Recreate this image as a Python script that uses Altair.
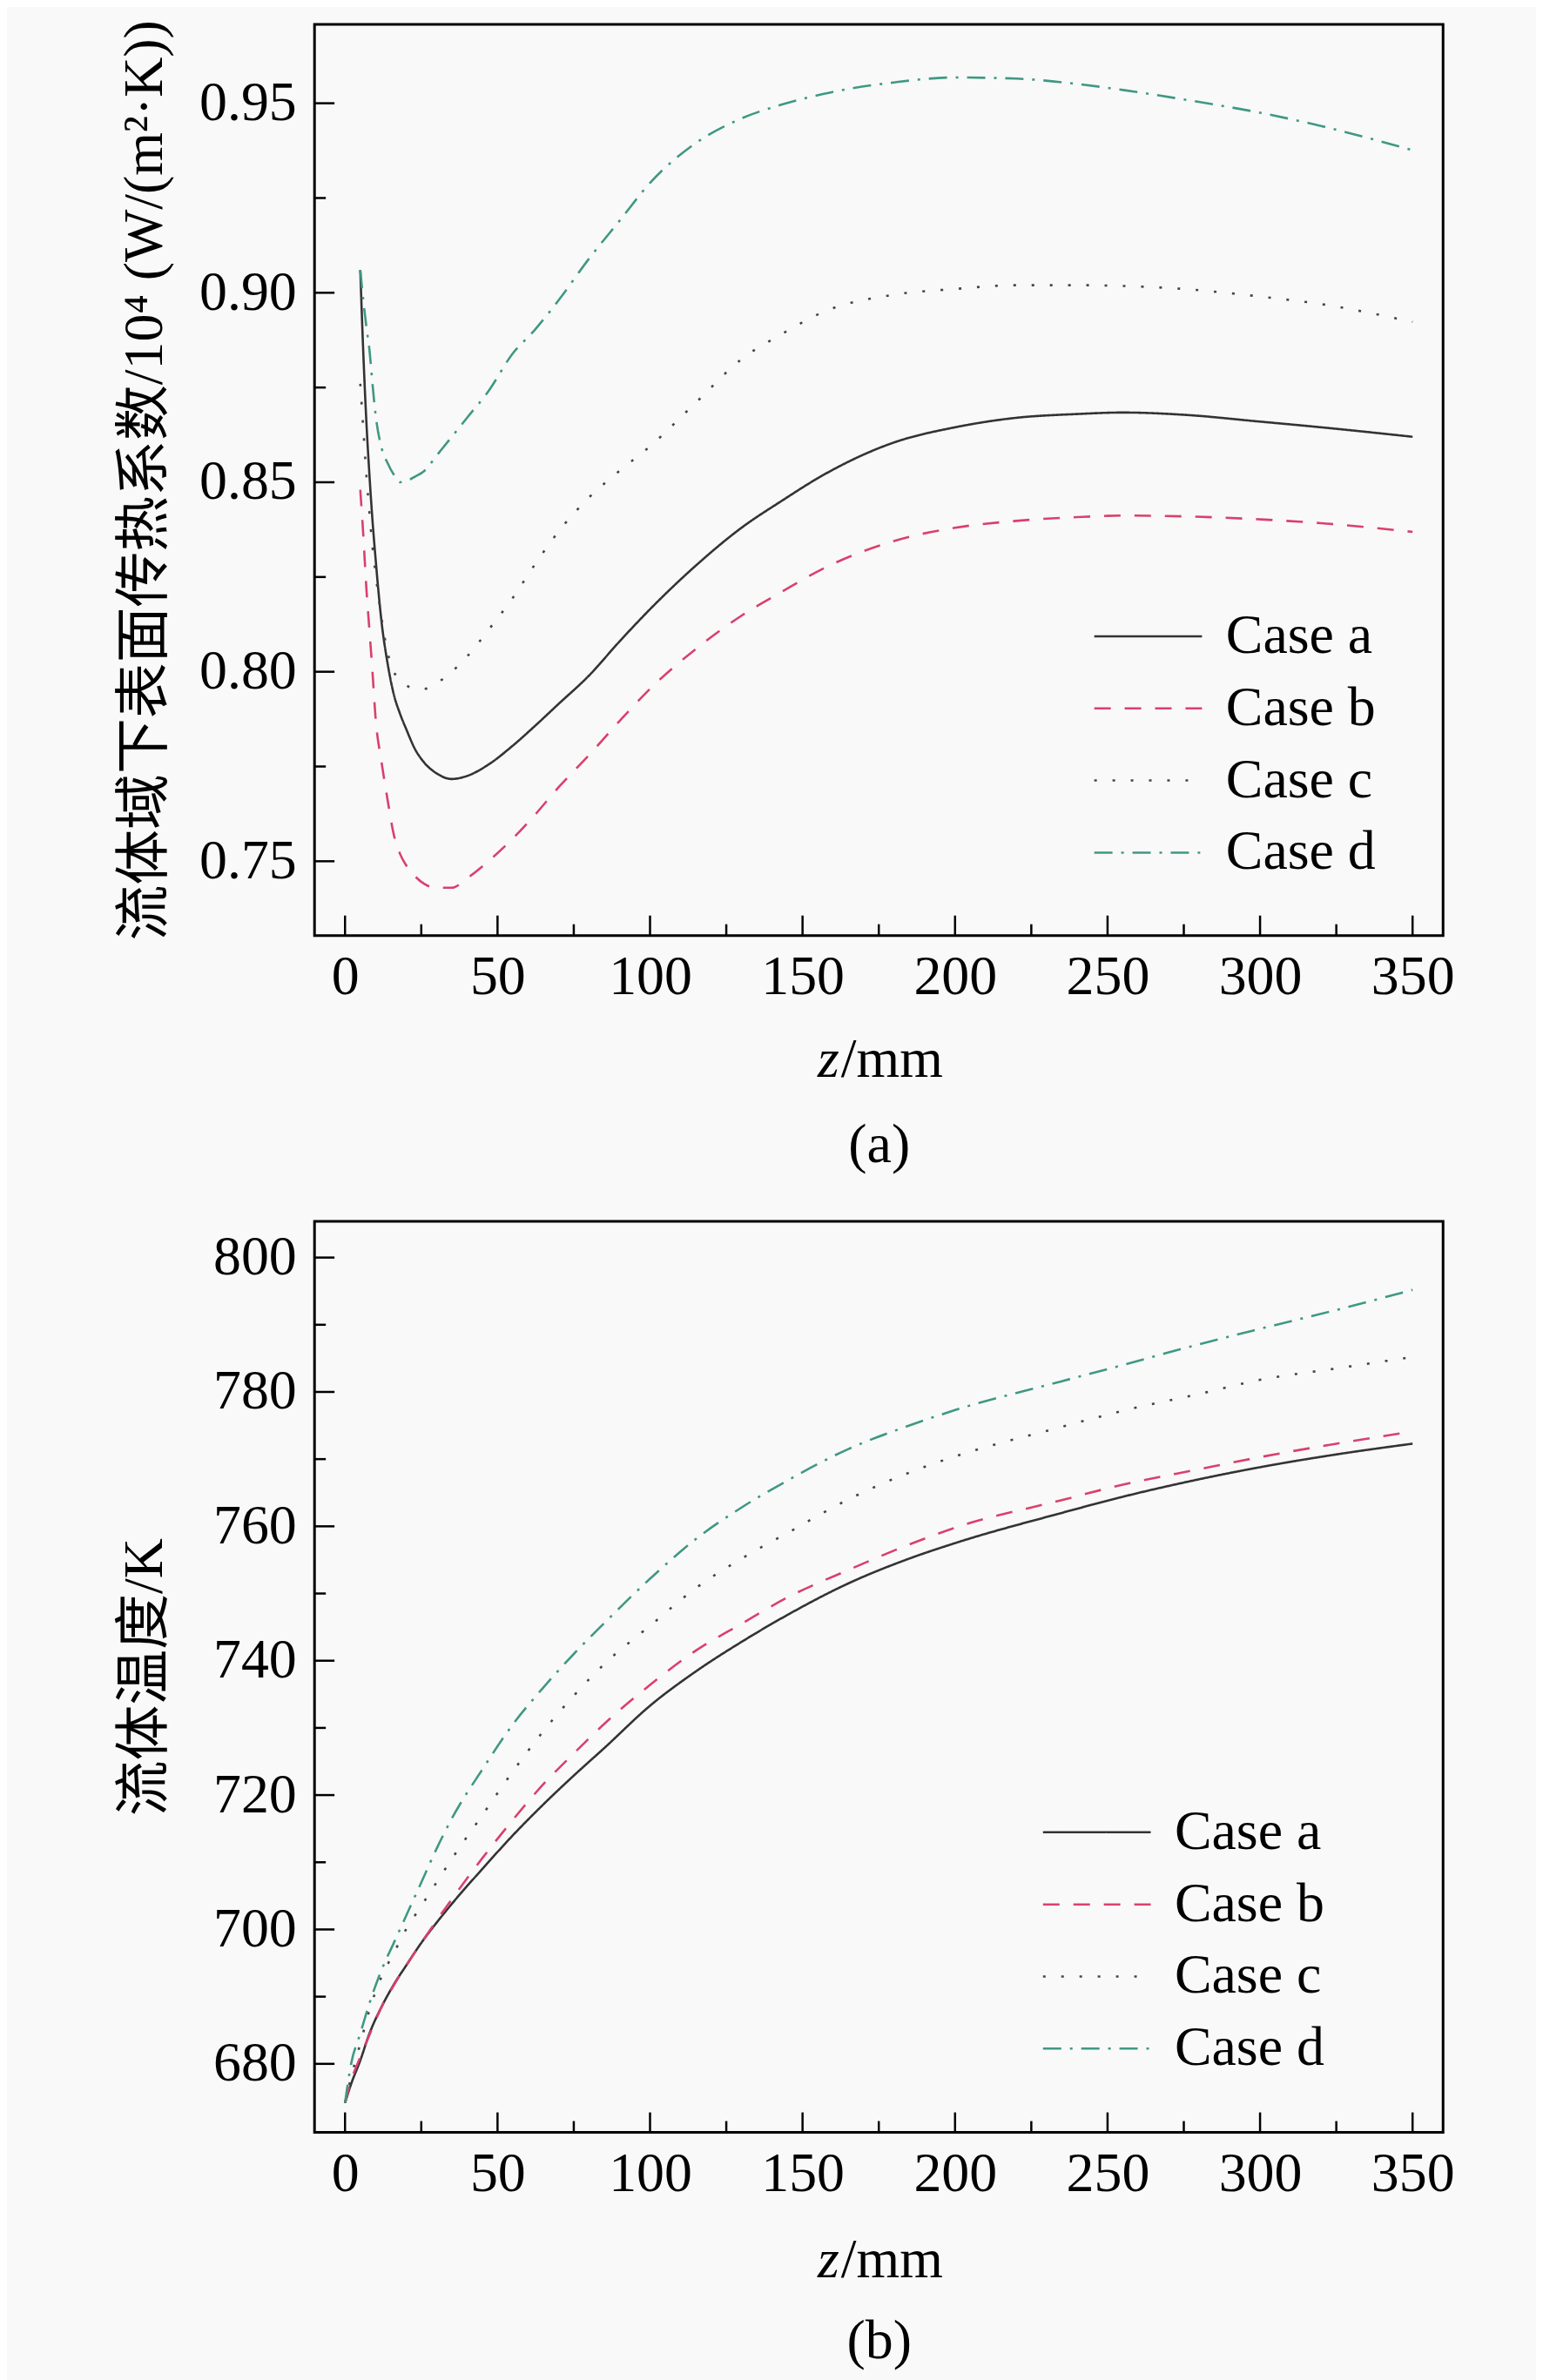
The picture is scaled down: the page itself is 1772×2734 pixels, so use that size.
import altair as alt
import pandas as pd

FONT = "Liberation Serif, Noto Sans CJK SC"

cases = ["Case a", "Case b", "Case c", "Case d"]
colors = ["#333333", "#d9406d", "#444444", "#3f9883"]
dashes = [[1, 0], [19, 16], [3, 18], [21, 10, 3, 10]]

# ---- panel (a): heat transfer coefficient /10^4 W/(m2 K) ----
z_h = [5, 6, 7, 8, 9, 10, 12, 14, 16, 18, 20, 23, 26, 30, 35, 40, 47, 55, 62, 70,
       80, 90, 100, 115, 130, 143, 157, 180, 200, 220, 240, 255, 275, 300, 320, 350]
h_a = [0.906, 0.884, 0.866, 0.852, 0.840, 0.830, 0.813, 0.802, 0.794, 0.789, 0.785,
       0.7795, 0.776, 0.7732, 0.7717, 0.7725, 0.7755, 0.7805, 0.7855, 0.7915, 0.799,
       0.808, 0.8165, 0.828, 0.838, 0.845, 0.852, 0.8605, 0.8645, 0.867, 0.868,
       0.8684, 0.8678, 0.866, 0.8645, 0.862]
h_b = [0.848, 0.836, 0.822, 0.811, 0.800, 0.788, 0.776, 0.766, 0.757, 0.752, 0.749,
       0.746, 0.744, 0.743, 0.743, 0.7455, 0.750, 0.756, 0.762, 0.7695, 0.778,
       0.787, 0.7955, 0.806, 0.8148, 0.821, 0.8273, 0.8345, 0.838, 0.8398, 0.8408,
       0.8412, 0.841, 0.8402, 0.8392, 0.8369]
h_c = [0.876, 0.864, 0.852, 0.842, 0.833, 0.826, 0.814, 0.805, 0.800, 0.798, 0.7965,
       0.7955, 0.7955, 0.797, 0.800, 0.804, 0.811, 0.8195, 0.828, 0.837, 0.846,
       0.853, 0.8595, 0.871, 0.8825, 0.889, 0.895, 0.8995, 0.901, 0.902, 0.902,
       0.9018, 0.901, 0.899, 0.897, 0.8923]
h_d = [0.906, 0.898, 0.891, 0.885, 0.876, 0.868, 0.859, 0.855, 0.852, 0.850, 0.8503,
       0.8515, 0.853, 0.857, 0.862, 0.867, 0.874, 0.884, 0.890, 0.898, 0.909,
       0.919, 0.929, 0.9395, 0.946, 0.9496, 0.9525, 0.9555, 0.9568, 0.9565, 0.9551,
       0.9535, 0.951, 0.9475, 0.944, 0.9376]

# ---- panel (b): fluid temperature / K ----
z_t = [0, 2, 5, 8, 12, 16, 20, 25, 30, 35, 45, 55, 65, 75, 85, 100, 115, 130, 145,
       165, 185, 200, 235, 255, 280, 300, 325, 350]
t_a = [674.2, 677.0, 680.5, 684.5, 688.5, 691.8, 694.6, 698.0, 701.0, 703.8, 709.0,
       714.0, 718.6, 722.9, 727.0, 733.3, 738.4, 742.8, 746.8, 751.5, 755.2, 757.5,
       762.0, 764.4, 767.0, 768.8, 770.7, 772.3]
t_b = [674.2, 677.5, 681.0, 684.3, 688.5, 691.7, 694.6, 698.0, 701.3, 704.5, 710.6,
       716.3, 721.6, 726.2, 730.6, 736.4, 741.5, 745.5, 749.4, 753.5, 757.3, 759.8,
       763.9, 766.2, 768.5, 770.3, 772.3, 774.1]
t_c = [674.2, 678.0, 683.0, 688.0, 693.0, 696.5, 700.0, 703.5, 707.0, 710.5, 717.0,
       723.5, 729.5, 734.8, 739.5, 745.2, 750.8, 755.2, 759.0, 764.0, 768.0, 770.4,
       774.8, 777.2, 779.7, 781.8, 783.5, 785.2]
t_d = [674.2, 680.0, 684.5, 689.0, 694.0, 698.0, 702.0, 707.0, 712.0, 716.5, 723.8,
       730.5, 736.0, 741.0, 745.6, 752.2, 758.1, 762.8, 766.8, 771.5, 775.0, 777.3,
       781.6, 784.0, 787.1, 789.4, 792.2, 795.2]

x_major = [0, 50, 100, 150, 200, 250, 300, 350]
x_minor = [25, 75, 125, 175, 225, 275, 325]
h_major = [0.75, 0.80, 0.85, 0.90, 0.95]
h_minor = [0.775, 0.825, 0.875, 0.925]
t_major = [680, 700, 720, 740, 760, 780, 800]
t_minor = [690, 710, 730, 750, 770, 790]

title_a = "流体域下表面传热系数/10⁴ (W/(m²·K))"
title_b = "流体温度/K"

W, H = 1299, 1049
FS = 64


def panel(z, series, ydom, ytitle, yfmt, ymaj, ymin, tag, lx, ly, zy):
    rows = []
    for c, vals in zip(cases, series):
        for zz, v in zip(z, vals):
            rows.append({"z": zz, "v": v, "case": c})
    df = pd.DataFrame(rows)
    xs = alt.Scale(domain=[-10, 360], nice=False, zero=False)
    ys = alt.Scale(domain=ydom, nice=False, zero=False)
    xaxis = alt.Axis(
        values=x_major, title=tag, titleFont=FONT, titleFontSize=FS,
        titleFontWeight="normal", titleColor="black", titlePadding=129,
        labelFont=FONT, labelFontSize=FS, labelColor="black", labelPadding=16,
        ticks=False, domain=False, grid=False, labelFlush=False)
    yaxis = alt.Axis(
        values=ymaj, format=yfmt, title=ytitle, titleFont=FONT, titleFontSize=FS,
        titleFontWeight="normal", titleColor="black", titleAngle=270,
        titleX=-163, titleY=H / 2, titleBaseline="bottom", titleAlign="center",
        labelFont=FONT, labelFontSize=FS, labelColor="black", labelPadding=21,
        ticks=False, domain=False, grid=False, labelFlush=False)
    leg = alt.Legend(orient="none", legendX=lx, legendY=ly, title=None,
                     symbolType="M-2,0H2", symbolSize=3844, symbolStrokeWidth=2.5,
                     labelFont=FONT, labelFontSize=FS, labelColor="black",
                     labelOffset=57, rowPadding=18, labelLimit=0, padding=0)
    lines = alt.Chart(df).mark_line(strokeWidth=2.6, interpolate="monotone").encode(
        x=alt.X("z:Q", scale=xs, axis=xaxis),
        y=alt.Y("v:Q", scale=ys, axis=yaxis),
        color=alt.Color("case:N", scale=alt.Scale(domain=cases, range=colors), legend=leg),
        strokeDash=alt.StrokeDash("case:N", scale=alt.Scale(domain=cases, range=dashes), legend=leg),
        order=alt.Order("z:Q"),
    )
    xmj = alt.Chart(pd.DataFrame({"z": x_major})).mark_rule(color="black", strokeWidth=2.5).encode(
        x=alt.X("z:Q", scale=xs, axis=xaxis), y=alt.value(H), y2=alt.value(H - 23))
    xmn = alt.Chart(pd.DataFrame({"z": x_minor})).mark_rule(color="black", strokeWidth=2.5).encode(
        x=alt.X("z:Q", scale=xs, axis=xaxis), y=alt.value(H), y2=alt.value(H - 13))
    ymj = alt.Chart(pd.DataFrame({"v": ymaj})).mark_rule(color="black", strokeWidth=2.5).encode(
        y=alt.Y("v:Q", scale=ys, axis=yaxis), x=alt.value(0), x2=alt.value(23))
    ymn = alt.Chart(pd.DataFrame({"v": ymin})).mark_rule(color="black", strokeWidth=2.5).encode(
        y=alt.Y("v:Q", scale=ys, axis=yaxis), x=alt.value(0), x2=alt.value(13))
    zt = alt.Chart(pd.DataFrame({"t": ["z"]})).mark_text(
        font=FONT, fontSize=FS, fontStyle="italic", align="left", baseline="middle",
        color="black").encode(text="t:N", x=alt.value(579), y=alt.value(H + zy))
    mt = alt.Chart(pd.DataFrame({"t": ["/mm"]})).mark_text(
        font=FONT, fontSize=FS, align="left", baseline="middle",
        color="black").encode(text="t:N", x=alt.value(606), y=alt.value(H + zy))
    return alt.layer(lines, xmj, xmn, ymj, ymn, zt, mt).properties(width=W, height=H)


top = panel(z_h, [h_a, h_b, h_c, h_d], [0.7304, 0.9708], title_a, ".2f",
            h_major, h_minor, "(a)", 927, 672, 144)
bot = panel(z_t, [t_a, t_b, t_c, t_d], [669.8, 805.4], title_b, "d",
            t_major, t_minor, "(b)", 868, 671, 148)

chart = alt.vconcat(top, bot, spacing=52).properties(
    padding={"left": 125, "top": 9, "right": 92, "bottom": 10},
    background="#f9f9f9",
).configure_view(stroke="black", strokeWidth=3).resolve_scale(color="independent", strokeDash="independent")

chart.save("out.html", embed_options={"renderer": "svg", "actions": False})
